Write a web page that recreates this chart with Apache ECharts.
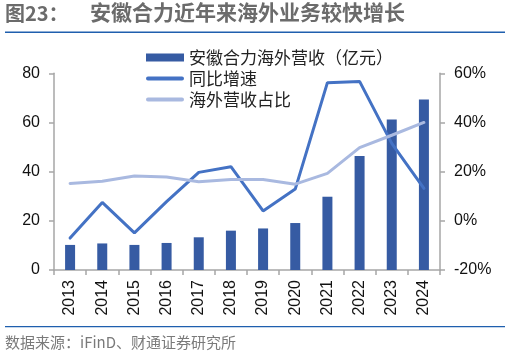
<!DOCTYPE html>
<html><head><meta charset="utf-8">
<script src="https://cdn.jsdelivr.net/npm/echarts@6/dist/echarts.min.js"></script>
<style>html,body{margin:0;padding:0;background:#fff}#c{width:510px;height:357px}</style>
</head><body><div id="c"></div>
<script>
var categories = ['2013','2014','2015','2016','2017','2018','2019','2020','2021','2022','2023','2024'];
var revenue = [10.2, 10.8, 10.2, 11.0, 13.3, 16.0, 16.9, 19.1, 29.8, 46.4, 61.2, 69.3];
var growth = [-7.0, 7.5, -4.9, 7.8, 19.7, 22.0, 4.0, 12.9, 56.2, 56.7, 31.5, 13.2];
var share = [15.2, 16.1, 18.2, 17.8, 15.9, 16.8, 16.8, 14.9, 19.3, 29.8, 34.8, 40.0];
var leftTicks = [0, 20, 40, 60, 80];
var rightTicks = [-20, 0, 20, 40, 60];
var seriesNames = ['安徽合力海外营收（亿元）', '同比增速', '海外营收占比'];

var chart = echarts.init(document.getElementById('c'));
var cjk = '"Liberation Sans", Arial, "Noto Sans CJK SC", sans-serif';
var axisGray = '#a6a6a6';
var barIcon = 'path://M0,0 L0.01,0 M0,12 L0.01,12 M0,2 L38,2 L38,10 L0,10 Z';
var lineIcon = 'path://M0,0 L0.01,0 M0,12 L0.01,12 M2,4 L36,4 A2,2 0 0 1 36,8 L2,8 A2,2 0 0 1 2,4 Z';
chart.setOption({
  animation: false,
  textStyle: {fontFamily: cjk},
  graphic: [
    {type: 'text', left: 5, top: 3, style: {text: '图23：', font: 'bold 20px "Noto Sans CJK SC"', fill: '#6b6b6b'}},
    {type: 'text', left: 90, top: 2, style: {text: '安徽合力近年来海外业务较快增长', font: 'bold 21px "Noto Sans CJK SC"', fill: '#6b6b6b'}},
    {type: 'rect', shape: {x: 5, y: 31.5, width: 500, height: 1.5}, style: {fill: '#1f5fae'}},
    {type: 'rect', shape: {x: 5, y: 326, width: 500, height: 1.2}, style: {fill: '#1f5fae'}},
    {type: 'text', left: 5, top: 335, style: {text: '数据来源：iFinD、财通证券研究所', font: '15px "Noto Sans CJK SC"', fill: '#7a7a7a'}}
  ],
  legend: {
    orient: 'vertical', left: 141, top: 44, itemGap: 4,
    itemWidth: 38, itemHeight: 12,
    itemStyle: {borderWidth: 0},
    textStyle: {fontFamily: '"Noto Sans CJK SC"', fontSize: 17, color: '#222'},
    data: [
      {name: seriesNames[0], icon: barIcon},
      {name: seriesNames[1], icon: lineIcon},
      {name: seriesNames[2], icon: lineIcon}
    ]
  },
  grid: {left: 54, right: 70, top: 73.3, bottom: 87},
  xAxis: {
    type: 'category', data: categories,
    axisLine: {lineStyle: {color: axisGray, width: 1.5}},
    axisTick: {show: true, alignWithLabel: false, length: 5, lineStyle: {color: axisGray, width: 1.5}},
    axisLabel: {rotate: 90, fontSize: 16, color: '#111', margin: 10, fontFamily: '"Liberation Sans", Arial'}
  },
  yAxis: [
    {type: 'value', min: 0, max: 80, interval: 20,
     axisLine: {show: true, lineStyle: {color: axisGray, width: 1.5}},
     axisTick: {show: true, length: 5, lineStyle: {color: axisGray, width: 1.5}},
     splitLine: {show: false},
     axisLabel: {fontSize: 16, color: '#111', margin: 14, fontFamily: '"Liberation Sans", Arial'}},
    {type: 'value', min: -20, max: 60, interval: 20, position: 'right',
     axisLine: {show: true, lineStyle: {color: axisGray, width: 1.5}},
     axisTick: {show: true, length: 5, lineStyle: {color: axisGray, width: 1.5}},
     splitLine: {show: false},
     axisLabel: {fontSize: 16, color: '#111', margin: 14, formatter: '{value}%', fontFamily: '"Liberation Sans", Arial'}}
  ],
  series: [
    {name: seriesNames[0], type: 'bar', data: revenue, barWidth: 10, yAxisIndex: 0,
     itemStyle: {color: '#365ba3'}},
    {name: seriesNames[1], type: 'line', data: growth, yAxisIndex: 1, symbol: 'none',
     lineStyle: {color: '#4472c4', width: 3, cap: 'round'}, itemStyle: {color: '#4472c4'}},
    {name: seriesNames[2], type: 'line', data: share, yAxisIndex: 1, symbol: 'none',
     lineStyle: {color: '#a9b9e0', width: 3, cap: 'round'}, itemStyle: {color: '#a9b9e0'}}
  ]
});
</script></body></html>
